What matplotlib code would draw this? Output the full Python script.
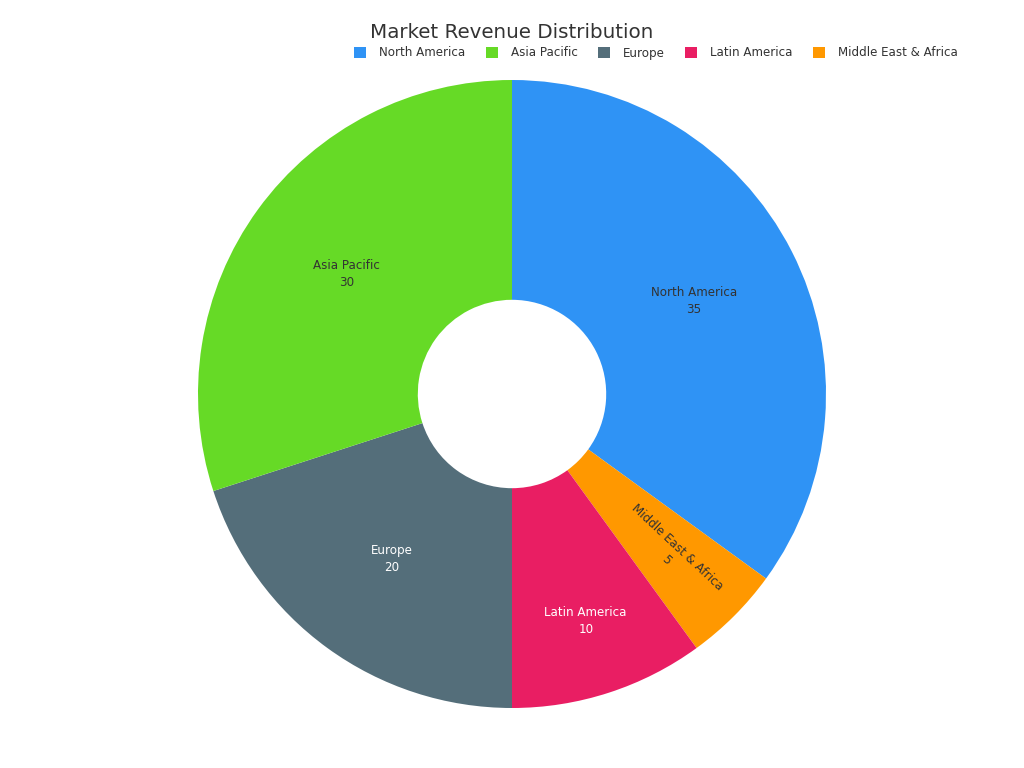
import matplotlib.pyplot as plt
from matplotlib.patches import Patch
import numpy as np

# data, clockwise from the top
regions = ['North America', 'Middle East & Africa', 'Latin America', 'Europe', 'Asia Pacific']
revenue = [35, 5, 10, 20, 30]
colors = ['#2F93F5', '#FF9800', '#E91E63', '#546E7A', '#66DA26']
label_colors = ['#333333', '#333333', 'white', 'white', '#333333']
label_radius = [0.65, 0.72, 0.76, 0.65, 0.65]

legend_order = ['North America', 'Asia Pacific', 'Europe', 'Latin America', 'Middle East & Africa']

W, H = 1024, 768
fig = plt.figure(figsize=(W / 100, H / 100), dpi=100)

cx, cy, r = 512, 394, 314
ax = fig.add_axes([(cx - r) / W, (H - cy - r) / H, 2 * r / W, 2 * r / H])
wedges, _ = ax.pie(revenue, colors=colors, startangle=90, counterclock=False,
                   radius=1, wedgeprops=dict(width=0.7, linewidth=0))
ax.set_xlim(-1, 1)
ax.set_ylim(-1, 1)
ax.set_aspect('equal')
ax.axis('off')

# labels inside the ring
for w, name, val, tc, lr in zip(wedges, regions, revenue, label_colors, label_radius):
    ang = (w.theta1 + w.theta2) / 2
    x = lr * np.cos(np.radians(ang))
    y = lr * np.sin(np.radians(ang))
    rot = 0
    if val <= 5:
        rot = ang if ang > -90 else ang + 180
        rot += 2
    ax.text(x, y, f'{name}\n{val}', ha='center', va='center', fontsize=8.6,
            color=tc, rotation=rot, rotation_mode='anchor', linespacing=1.4)

fig.text(0.5, 1 - 33 / H, 'Market Revenue Distribution', ha='center', va='center',
         fontsize=14.3, color='#333333')

handles = [Patch(facecolor=colors[regions.index(n)], label=n) for n in legend_order]
fig.legend(handles=handles, loc='center', bbox_to_anchor=(656 / W, 1 - 53 / H), ncol=5,
           frameon=False, fontsize=8.6, handlelength=1.0, handleheight=1.0,
           columnspacing=1.7, handletextpad=1.1, labelcolor='#333333')

fig.savefig('out.png', dpi=100)
